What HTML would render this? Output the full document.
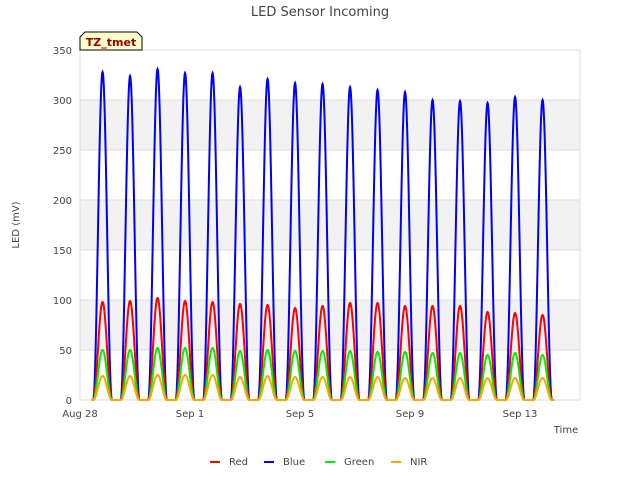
<!DOCTYPE html>
<html><head><meta charset="utf-8"><style>
body{margin:0;background:#fff;font-family:"Liberation Sans",sans-serif}
svg text{font-family:"DejaVu Sans","Liberation Sans",sans-serif}
</style></head><body>
<svg id="c" width="640" height="480" xmlns="http://www.w3.org/2000/svg">
<rect x="0" y="0" width="640" height="480" fill="#fff"/>
<g id="bands"></g><g id="grid"></g><g id="series"></g><g id="axes"></g>
<text x="320" y="16" text-anchor="middle" font-size="13" fill="#444">LED Sensor Incoming</text>
<text transform="translate(19,225) rotate(-90)" text-anchor="middle" font-size="10" fill="#444">LED (mV)</text>
<text x="566" y="433" text-anchor="middle" font-size="10" fill="#444">Time</text>
<g>
<path d="M80,50 L80,37 L85,32 L137,32 L142,37 L142,50 Z" fill="#ffffcc" stroke="#000" stroke-width="1"/>
<text x="111" y="46" text-anchor="middle" font-size="11" font-weight="bold" fill="#990000">TZ_tmet</text>
</g>
<g id="legend"></g>
</svg>
<script>
const categories=["Aug 28","Aug 29","Aug 30","Aug 31","Sep 1","Sep 2","Sep 3","Sep 4","Sep 5","Sep 6","Sep 7","Sep 8","Sep 9","Sep 10","Sep 11","Sep 12","Sep 13"];
const bluePeaks=[328,324,331,327,327,313,321,317,316,313,310,308,300,299,297,303,300];
const redPeaks=[98,99,102,99,98,96,95,92,94,97,97,94,94,94,88,87,85];
const greenPeaks=[50,50,52,52,52,49,50,49,49,49,48,48,47,47,45,47,45];
const nirPeaks=[24,24,25,25,25,23,24,23,23,23,23,22,22,22,22,22,22];
const yTicks=[0,50,100,150,200,250,300,350];
const xTickDays=[0,4,8,12,16];
const xTickLabels=["Aug 28","Sep 1","Sep 5","Sep 9","Sep 13"];
const X0=80,X1=580,Y0=400,Y1=50;
const xs=d=>X0+d*27.5;
const ys=v=>Y0-(v/350)*(Y0-Y1);
const NS="http://www.w3.org/2000/svg";
function mk(p,t,a){const e=document.createElementNS(NS,t);for(const k in a)e.setAttribute(k,a[k]);p.appendChild(e);return e;}
const bands=document.getElementById('bands'),grid=document.getElementById('grid'),axes=document.getElementById('axes'),ser=document.getElementById('series'),leg=document.getElementById('legend');
for(let i=0;i+1<yTicks.length;i++){ if(i%2===1){const b=mk(bands,'rect',{x:X0,y:ys(yTicks[i+1]),width:X1-X0,height:ys(yTicks[i])-ys(yTicks[i+1]),fill:'#f2f2f2'});

}}
yTicks.forEach(v=>{const l=mk(grid,'line',{x1:X0,x2:X1,y1:ys(v),y2:ys(v),stroke:'#ddd','stroke-width':1});


const t=mk(axes,'text',{x:X0-8,y:ys(v)+4,'text-anchor':'end','font-size':10,fill:'#444'});t.textContent=v;

});
mk(grid,'rect',{x:X0,y:Y1,width:X1-X0,height:Y0-Y1,fill:'none',stroke:'#ddd'});
xTickDays.forEach((d,i)=>{const t=mk(axes,'text',{x:xs(d),y:Y0+17,'text-anchor':'middle','font-size':10,fill:'#444'});t.textContent=xTickLabels[i];

});
function path(peaks,color,name){let d='';const h=0.34;
const start=0.4,end=categories.length+0.25;
for(let t=start;t<=end;t+=0.01){const day=Math.floor(t);let v=0;
for(let k=Math.max(0,day-1);k<=Math.min(peaks.length-1,day+1);k++){const dd=t-(k+0.82);if(Math.abs(dd)<h)v=Math.max(v,peaks[k]*Math.pow(Math.cos(Math.PI/2*dd/h),2));}
d+=(d?'L':'M')+xs(t).toFixed(2)+','+ys(v).toFixed(2);}
const p=mk(ser,'path',{d:d,fill:'none',stroke:color,'stroke-width':2});

}
path(bluePeaks,'#0000ff','blue-series');
path(redPeaks,'#ff0000','red-series');
path(greenPeaks,'#00ee00','green-series');
path(nirPeaks,'#ffa500','nir-series');
const legItems=[["Red","#ff0000",210],["Blue","#0000ff",264],["Green","#00ee00",325],["NIR","#ffa500",391]];
legItems.forEach(([n,c,x])=>{const g=mk(leg,'g',{});


mk(g,'line',{x1:x,x2:x+10,y1:462,y2:462,stroke:c,'stroke-width':2});
const t=mk(g,'text',{x:x+19,y:465,'font-size':10,fill:'#444'});t.textContent=n;});
</script>
</body></html>
